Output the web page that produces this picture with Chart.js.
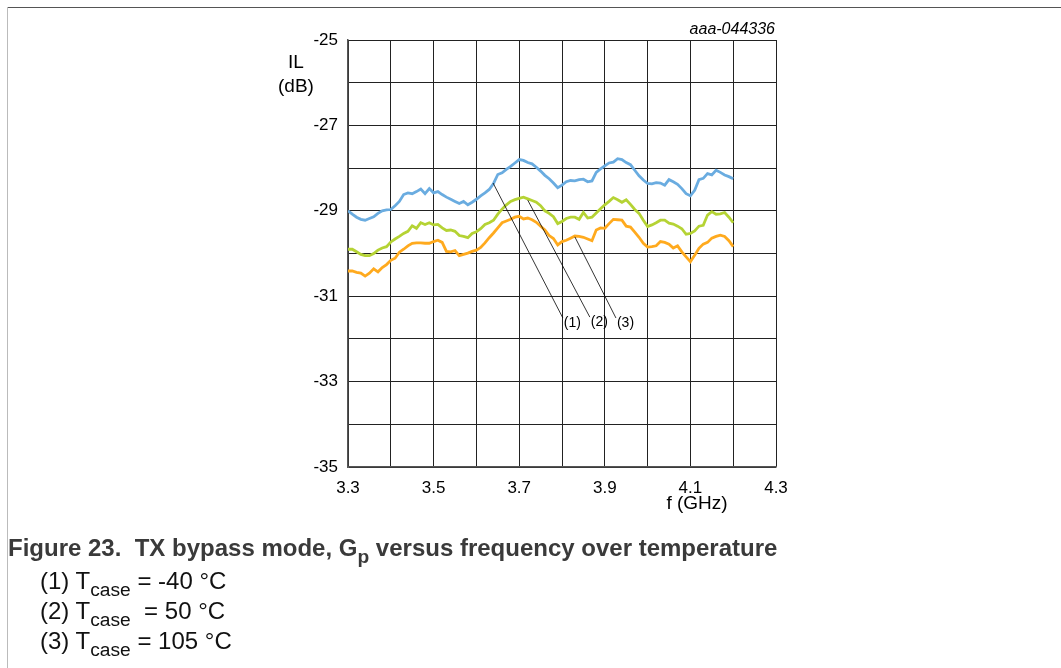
<!DOCTYPE html>
<html>
<head>
<meta charset="utf-8">
<script src="https://cdn.jsdelivr.net/npm/chart.js@4.4.1/dist/chart.umd.min.js"></script>
<style>
  html, body { margin: 0; padding: 0; background: #fff; }
  body { width: 1061px; height: 668px; position: relative; overflow: hidden; font-family: "Liberation Sans", Arial, sans-serif; }
  #wrap { position: absolute; left: 0; top: 0; width: 1061px; height: 668px; }
  .frameTop { position: absolute; left: 7px; top: 7px; width: 1054px; height: 0; border-top: 1.5px solid #555; }
  .frameLeft { position: absolute; left: 7px; top: 7px; width: 0; height: 661px; border-left: 1.5px solid #bbb; }
  .txt { position: absolute; color: #000; white-space: nowrap; }
  .cap { position: absolute; left: 8px; top: 534px; font-size: 24px; font-weight: bold; color: #3a3a3a; white-space: nowrap; }
  .note { position: absolute; left: 40px; font-size: 24px; color: #111; white-space: nowrap; }
  sub { font-size: 0.8em; vertical-align: -0.35em; line-height: 0; }
</style>
</head>
<body>
<div id="wrap"><canvas id="canvas" width="1061" height="668"></canvas></div>
<div class="frameTop"></div>
<div class="frameLeft"></div>
<div class="txt" style="left:266px; top:51px; font-size:19px; width:60px; text-align:center;">IL</div>
<div class="txt" style="left:266px; top:75px; font-size:19px; width:60px; text-align:center;">(dB)</div>
<div class="txt" style="left:657px; top:492px; font-size:19px; width:80px; text-align:center;">f (GHz)</div>
<div class="txt" style="left:615px; top:20px; font-size:16px; width:160px; text-align:right; font-style:italic;">aaa-044336</div>
<div class="cap">Figure 23.&nbsp; TX bypass mode, G<sub>p</sub> versus frequency over temperature</div>
<div class="note" style="top:567px;">(1) T<sub>case</sub> = -40 °C</div>
<div class="note" style="top:597px;">(2) T<sub>case</sub> &nbsp;= 50 °C</div>
<div class="note" style="top:627px;">(3) T<sub>case</sub> = 105 °C</div>
<script>
var freqs = [3.30, 3.31, 3.32, 3.33, 3.34, 3.35, 3.36, 3.37, 3.38, 3.39,
  3.40, 3.41, 3.42, 3.43, 3.44, 3.45, 3.46, 3.47, 3.48, 3.49,
  3.50, 3.51, 3.52, 3.53, 3.54, 3.55, 3.56, 3.57, 3.58, 3.59,
  3.60, 3.61, 3.62, 3.63, 3.64, 3.65, 3.66, 3.67, 3.68, 3.69,
  3.70, 3.71, 3.72, 3.73, 3.74, 3.75, 3.76, 3.77, 3.78, 3.79,
  3.80, 3.81, 3.82, 3.83, 3.84, 3.85, 3.86, 3.87, 3.88, 3.89,
  3.90, 3.91, 3.92, 3.93, 3.94, 3.95, 3.96, 3.97, 3.98, 3.99,
  4.00, 4.01, 4.02, 4.03, 4.04, 4.05, 4.06, 4.07, 4.08, 4.09,
  4.10, 4.11, 4.12, 4.13, 4.14, 4.15, 4.16, 4.17, 4.18, 4.19, 4.20];

// (1) Tcase = -40 C
var ilMinus40 = [-29.00, -29.08, -29.15, -29.20, -29.22, -29.18, -29.14, -29.06, -29.00, -28.98,
  -28.97, -28.88, -28.78, -28.62, -28.58, -28.60, -28.55, -28.49, -28.60, -28.48,
  -28.58, -28.55, -28.62, -28.68, -28.73, -28.78, -28.83, -28.78, -28.86, -28.80,
  -28.73, -28.65, -28.58, -28.50, -28.36, -28.15, -28.11, -28.03, -27.96, -27.88,
  -27.80, -27.82, -27.87, -27.90, -27.98, -28.07, -28.17, -28.25, -28.35, -28.46,
  -28.40, -28.32, -28.29, -28.30, -28.27, -28.26, -28.32, -28.30, -28.10, -28.02,
  -27.95, -27.88, -27.86, -27.78, -27.80, -27.87, -27.92, -28.05, -28.18, -28.28,
  -28.36, -28.37, -28.34, -28.35, -28.40, -28.27, -28.32, -28.38, -28.48, -28.60,
  -28.65, -28.52, -28.27, -28.24, -28.13, -28.16, -28.05, -28.10, -28.16, -28.20, -28.25];

// (2) Tcase = 50 C
var il50 = [-29.90, -29.90, -29.96, -30.02, -30.05, -30.05, -30.00, -29.92, -29.87, -29.84,
  -29.73, -29.66, -29.60, -29.53, -29.48, -29.35, -29.41, -29.28, -29.32, -29.28,
  -29.33, -29.32, -29.40, -29.46, -29.45, -29.48, -29.58, -29.60, -29.63, -29.53,
  -29.49, -29.42, -29.32, -29.28, -29.22, -29.08, -28.96, -28.86, -28.78, -28.74,
  -28.71, -28.68, -28.72, -28.76, -28.80, -28.88, -29.00, -29.06, -29.14, -29.30,
  -29.25, -29.18, -29.15, -29.15, -29.20, -29.04, -29.17, -29.15, -29.05, -28.95,
  -28.86, -28.78, -28.69, -28.74, -28.80, -28.74, -28.85, -28.97, -29.06, -29.22,
  -29.37, -29.33, -29.28, -29.22, -29.22, -29.29, -29.31, -29.36, -29.42, -29.55,
  -29.53, -29.47, -29.36, -29.34, -29.10, -29.02, -29.08, -29.07, -29.04, -29.15, -29.28];

// (3) Tcase = 105 C
var il105 = [-30.41, -30.41, -30.44, -30.46, -30.53, -30.46, -30.36, -30.43, -30.33, -30.26,
  -30.16, -30.11, -29.97, -29.90, -29.82, -29.76, -29.75, -29.75, -29.76, -29.76,
  -29.72, -29.69, -29.74, -29.95, -29.96, -29.93, -30.05, -30.02, -29.99, -29.95,
  -29.92, -29.86, -29.75, -29.63, -29.52, -29.40, -29.28, -29.24, -29.20, -29.15,
  -29.13, -29.19, -29.17, -29.21, -29.27, -29.36, -29.45, -29.58, -29.65, -29.80,
  -29.72, -29.69, -29.64, -29.59, -29.60, -29.62, -29.66, -29.70, -29.45, -29.40,
  -29.41, -29.30, -29.20, -29.21, -29.22, -29.36, -29.38, -29.50, -29.62, -29.76,
  -29.85, -29.84, -29.82, -29.72, -29.74, -29.78, -29.87, -29.82, -29.96, -30.08,
  -30.19, -30.04, -29.88, -29.78, -29.74, -29.64, -29.60, -29.57, -29.60, -29.70, -29.84];

var xTickLabels = ['3.3', '', '3.5', '', '3.7', '', '3.9', '', '4.1', '', '4.3'];
var yTickLabels = ['-25', '', '-27', '', '-29', '', '-31', '', '-33', '', '-35'];

// callout lines: curve point -> label, in data units
var callouts = [
  { text: '(1)', from: [3.639, -28.35], to: [3.802, -31.51] },
  { text: '(2)', from: [3.720, -28.75], to: [3.865, -31.49] },
  { text: '(3)', from: [3.830, -29.61], to: [3.926, -31.51] }
];

function pts(vals) {
  return freqs.map(function(f, i) { return { x: f, y: vals[i] }; });
}

var calloutPlugin = {
  id: 'callouts',
  afterDatasetsDraw: function(chart) {
    var ctx = chart.ctx;
    var xs = chart.scales.x, ys = chart.scales.y;
    ctx.save();
    ctx.strokeStyle = '#000';
    ctx.lineWidth = 0.8;
    ctx.fillStyle = '#000';
    ctx.font = '14px "Liberation Sans", Arial, sans-serif';
    ctx.textBaseline = 'middle';
    ctx.textAlign = 'left';
    callouts.forEach(function(c) {
      var x0 = xs.getPixelForValue(c.from[0]), y0 = ys.getPixelForValue(c.from[1]);
      var x1 = xs.getPixelForValue(c.to[0]), y1 = ys.getPixelForValue(c.to[1]);
      ctx.beginPath();
      ctx.moveTo(x0, y0);
      ctx.lineTo(x1, y1);
      ctx.stroke();
      ctx.fillText(c.text, x1 + 1, y1 + 5);
    });
    ctx.restore();
  }
};

window.onload = function() {
  var ctx = document.getElementById('canvas').getContext('2d');
  window.myChart = new Chart(ctx, {
    type: 'line',
    data: {
      datasets: [{
        label: '(1)',
        data: pts(ilMinus40),
        borderColor: 'rgba(106, 172, 224, 1)',
        borderWidth: 2.8,
        pointRadius: 0,
        fill: false
      }, {
        label: '(2)',
        data: pts(il50),
        borderColor: 'rgba(181, 211, 52, 1)',
        borderWidth: 2.8,
        pointRadius: 0,
        fill: false
      }, {
        label: '(3)',
        data: pts(il105),
        borderColor: 'rgba(255, 170, 30, 1)',
        borderWidth: 2.8,
        pointRadius: 0,
        fill: false
      }]
    },
    options: {
      responsive: false,
      animation: false,
      layout: { padding: { left: 0, right: 285, top: 40, bottom: 0 } },
      plugins: { legend: { display: false }, tooltip: { enabled: false } },
      scales: {
        x: {
          type: 'linear',
          min: 3.3,
          max: 4.3,
          afterFit: function(scale) { scale.height = 201; },
          afterBuildTicks: function(scale) {
            scale.ticks = xTickLabels.map(function(t, i) { return { value: 3.3 + i * 0.1 }; });
          },
          ticks: {
            autoSkip: false,
            maxRotation: 0,
            padding: 11,
            color: '#000',
            font: { family: '"Liberation Sans", Arial, sans-serif', size: 17 },
            callback: function(v, i) { return xTickLabels[i]; }
          },
          grid: { color: '#222', lineWidth: 1, drawTicks: false },
          border: { color: '#555', width: 1.5 }
        },
        y: {
          type: 'linear',
          min: -35,
          max: -25,
          afterFit: function(scale) { scale.width = 348; },
          afterBuildTicks: function(scale) {
            scale.ticks = yTickLabels.map(function(t, i) { return { value: -35 + i }; });
          },
          ticks: {
            autoSkip: false,
            padding: 10,
            color: '#000',
            font: { family: '"Liberation Sans", Arial, sans-serif', size: 17 },
            callback: function(v, i) { return yTickLabels[10 - i]; }
          },
          grid: { color: '#222', lineWidth: 1, drawTicks: false },
          border: { color: '#555', width: 1.5 }
        }
      }
    },
    plugins: [calloutPlugin]
  });
};
</script>
</body>
</html>
